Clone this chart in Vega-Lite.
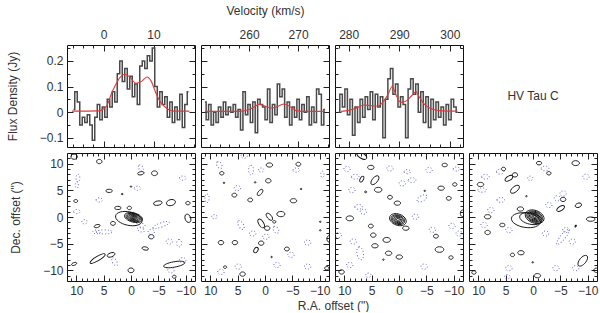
{
"$schema":"https://vega.github.io/schema/vega-lite/v6.json",
"padding":{"left":5,"top":3,"right":0,"bottom":0},
"background":"white",
"config":{
 "view":{"stroke":"#111","strokeWidth":1},
 "axis":{"domain":false,"grid":false,"tickColor":"#222","tickWidth":1,"labelFont":"Liberation Sans","labelFontSize":12,"labelColor":"#333","titleFont":"Liberation Sans","titleFontSize":12,"titleFontWeight":"normal","titleColor":"#333","labelOverlap":false,"labelFlush":false,"labelBound":false}
},
"datasets":{
"spec":[
{"p":1,"v":-6.0,"f":0.01},{"p":1,"v":-5.5,"f":0.08},{"p":1,"v":-5.0,"f":0.04},{"p":1,"v":-4.5,"f":-0.05},{"p":1,"v":-4.0,"f":-0.02},{"p":1,"v":-3.5,"f":-0.04},{"p":1,"v":-3.0,"f":-0.01},{"p":1,"v":-2.5,"f":-0.05},{"p":1,"v":-2.0,"f":-0.11},{"p":1,"v":-1.5,"f":-0.02},{"p":1,"v":-1.0,"f":0.03},{"p":1,"v":-0.5,"f":-0.03},{"p":1,"v":0.0,"f":0.02},{"p":1,"v":0.5,"f":-0.02},{"p":1,"v":1.0,"f":0.05},{"p":1,"v":1.5,"f":0.02},{"p":1,"v":2.0,"f":0.08},{"p":1,"v":2.5,"f":0.04},{"p":1,"v":3.0,"f":0.15},{"p":1,"v":3.5,"f":0.20},{"p":1,"v":4.0,"f":0.12},{"p":1,"v":4.5,"f":0.17},{"p":1,"v":5.0,"f":0.09},{"p":1,"v":5.5,"f":0.14},{"p":1,"v":6.0,"f":0.06},{"p":1,"v":6.5,"f":0.11},{"p":1,"v":7.0,"f":0.03},{"p":1,"v":7.5,"f":0.18},{"p":1,"v":8.0,"f":0.20},{"p":1,"v":8.5,"f":0.17},{"p":1,"v":9.0,"f":0.22},{"p":1,"v":9.5,"f":0.20},{"p":1,"v":10.0,"f":0.25},{"p":1,"v":10.5,"f":0.10},{"p":1,"v":11.0,"f":0.02},{"p":1,"v":11.5,"f":0.08},{"p":1,"v":12.0,"f":0.03},{"p":1,"v":12.5,"f":0.06},{"p":1,"v":13.0,"f":-0.02},{"p":1,"v":13.5,"f":0.04},{"p":1,"v":14.0,"f":-0.04},{"p":1,"v":14.5,"f":0.02},{"p":1,"v":15.0,"f":-0.03},{"p":1,"v":15.5,"f":0.07},{"p":1,"v":16.0,"f":-0.06},{"p":1,"v":16.5,"f":0.03},{"p":1,"v":17.0,"f":0.08},
{"p":2,"v":251.0,"f":0.04},{"p":2,"v":251.5,"f":-0.03},{"p":2,"v":252.0,"f":0.03},{"p":2,"v":252.5,"f":-0.05},{"p":2,"v":253.0,"f":0.0},{"p":2,"v":253.5,"f":-0.04},{"p":2,"v":254.0,"f":0.02},{"p":2,"v":254.5,"f":-0.02},{"p":2,"v":255.0,"f":0.04},{"p":2,"v":255.5,"f":-0.01},{"p":2,"v":256.0,"f":0.02},{"p":2,"v":256.5,"f":0.0},{"p":2,"v":257.0,"f":0.03},{"p":2,"v":257.5,"f":-0.02},{"p":2,"v":258.0,"f":0.01},{"p":2,"v":258.5,"f":-0.07},{"p":2,"v":259.0,"f":0.08},{"p":2,"v":259.5,"f":-0.01},{"p":2,"v":260.0,"f":0.03},{"p":2,"v":260.5,"f":-0.04},{"p":2,"v":261.0,"f":0.04},{"p":2,"v":261.5,"f":-0.08},{"p":2,"v":262.0,"f":0.05},{"p":2,"v":262.5,"f":0.03},{"p":2,"v":263.0,"f":0.02},{"p":2,"v":263.5,"f":-0.03},{"p":2,"v":264.0,"f":0.09},{"p":2,"v":264.5,"f":-0.04},{"p":2,"v":265.0,"f":0.03},{"p":2,"v":265.5,"f":-0.01},{"p":2,"v":266.0,"f":0.11},{"p":2,"v":266.5,"f":0.06},{"p":2,"v":267.0,"f":0.09},{"p":2,"v":267.5,"f":-0.02},{"p":2,"v":268.0,"f":0.04},{"p":2,"v":268.5,"f":-0.05},{"p":2,"v":269.0,"f":0.02},{"p":2,"v":269.5,"f":-0.02},{"p":2,"v":270.0,"f":0.05},{"p":2,"v":270.5,"f":-0.03},{"p":2,"v":271.0,"f":0.03},{"p":2,"v":271.5,"f":0.0},{"p":2,"v":272.0,"f":0.06},{"p":2,"v":272.5,"f":-0.05},{"p":2,"v":273.0,"f":0.02},{"p":2,"v":273.5,"f":-0.04},{"p":2,"v":274.0,"f":0.09},{"p":2,"v":274.5,"f":0.07},{"p":2,"v":275.0,"f":-0.05},{"p":2,"v":275.5,"f":0.01},
{"p":3,"v":278.0,"f":0.0},{"p":3,"v":278.5,"f":0.07},{"p":3,"v":279.0,"f":0.02},{"p":3,"v":279.5,"f":0.09},{"p":3,"v":280.0,"f":-0.01},{"p":3,"v":280.5,"f":0.05},{"p":3,"v":281.0,"f":-0.09},{"p":3,"v":281.5,"f":0.02},{"p":3,"v":282.0,"f":-0.04},{"p":3,"v":282.5,"f":0.05},{"p":3,"v":283.0,"f":-0.02},{"p":3,"v":283.5,"f":0.06},{"p":3,"v":284.0,"f":0.01},{"p":3,"v":284.5,"f":0.08},{"p":3,"v":285.0,"f":-0.03},{"p":3,"v":285.5,"f":0.07},{"p":3,"v":286.0,"f":0.02},{"p":3,"v":286.5,"f":0.06},{"p":3,"v":287.0,"f":-0.10},{"p":3,"v":287.5,"f":0.05},{"p":3,"v":288.0,"f":0.13},{"p":3,"v":288.5,"f":0.17},{"p":3,"v":289.0,"f":0.07},{"p":3,"v":289.5,"f":0.11},{"p":3,"v":290.0,"f":0.02},{"p":3,"v":290.5,"f":0.06},{"p":3,"v":291.0,"f":0.03},{"p":3,"v":291.5,"f":-0.10},{"p":3,"v":292.0,"f":0.09},{"p":3,"v":292.5,"f":0.13},{"p":3,"v":293.0,"f":0.07},{"p":3,"v":293.5,"f":0.11},{"p":3,"v":294.0,"f":0.0},{"p":3,"v":294.5,"f":0.08},{"p":3,"v":295.0,"f":-0.04},{"p":3,"v":295.5,"f":0.06},{"p":3,"v":296.0,"f":-0.06},{"p":3,"v":296.5,"f":0.05},{"p":3,"v":297.0,"f":-0.03},{"p":3,"v":297.5,"f":0.04},{"p":3,"v":298.0,"f":-0.02},{"p":3,"v":298.5,"f":0.02},{"p":3,"v":299.0,"f":-0.05},{"p":3,"v":299.5,"f":0.03},{"p":3,"v":300.0,"f":-0.03},{"p":3,"v":300.5,"f":0.05},{"p":3,"v":301.0,"f":0.02},{"p":3,"v":301.5,"f":0.0}
],
"model":[
{"p":1,"v":-6.3,"f":0.004},{"p":1,"v":-1,"f":0.005},{"p":1,"v":0,"f":0.012},{"p":1,"v":0.8,"f":0.03},{"p":1,"v":1.5,"f":0.068},{"p":1,"v":2.5,"f":0.11},{"p":1,"v":3.4,"f":0.138},{"p":1,"v":4.2,"f":0.148},{"p":1,"v":5.2,"f":0.138},{"p":1,"v":6.5,"f":0.113},{"p":1,"v":7.6,"f":0.12},{"p":1,"v":8.7,"f":0.137},{"p":1,"v":9.5,"f":0.122},{"p":1,"v":10.5,"f":0.074},{"p":1,"v":11.3,"f":0.042},{"p":1,"v":12.2,"f":0.022},{"p":1,"v":13.2,"f":0.008},{"p":1,"v":14,"f":0.004},{"p":1,"v":17.2,"f":0.004},
{"p":2,"v":251,"f":0.003},{"p":2,"v":258,"f":0.003},{"p":2,"v":260,"f":0.01},{"p":2,"v":261.2,"f":0.022},{"p":2,"v":262.1,"f":0.031},{"p":2,"v":263.2,"f":0.024},{"p":2,"v":264.5,"f":0.016},{"p":2,"v":265.8,"f":0.022},{"p":2,"v":267.2,"f":0.032},{"p":2,"v":268.3,"f":0.022},{"p":2,"v":269.5,"f":0.007},{"p":2,"v":271,"f":0.003},{"p":2,"v":275.5,"f":0.003},
{"p":3,"v":278.5,"f":0.003},{"p":3,"v":280,"f":0.007},{"p":3,"v":281.5,"f":0.015},{"p":3,"v":283,"f":0.028},{"p":3,"v":284.5,"f":0.025},{"p":3,"v":285.8,"f":0.024},{"p":3,"v":287,"f":0.045},{"p":3,"v":287.8,"f":0.07},{"p":3,"v":288.6,"f":0.1},{"p":3,"v":289.4,"f":0.065},{"p":3,"v":290.3,"f":0.038},{"p":3,"v":291.5,"f":0.045},{"p":3,"v":292.5,"f":0.065},{"p":3,"v":293.3,"f":0.08},{"p":3,"v":294,"f":0.058},{"p":3,"v":295,"f":0.03},{"p":3,"v":296,"f":0.016},{"p":3,"v":297,"f":0.009},{"p":3,"v":298.5,"f":0.005},{"p":3,"v":301.5,"f":0.004}
],
"blobs":[
{"p":1,"s":"p","ra":10.4,"dec":11.3,"r":0.6,"f":"o","pa":0},{"p":1,"s":"p","ra":5.8,"dec":10.4,"r":0.5,"f":"o","pa":0},{"p":1,"s":"p","ra":-1.8,"dec":8.2,"r":0.6,"f":"e","pa":-10},{"p":1,"s":"p","ra":-4.3,"dec":8.2,"r":0.55,"f":"o","pa":0},{"p":1,"s":"p","ra":4.0,"dec":4.9,"r":0.6,"f":"e","pa":0},{"p":1,"s":"p","ra":0,"dec":5.7,"r":0.15,"f":"o","pa":0},{"p":1,"s":"p","ra":1.6,"dec":4.3,"r":0.2,"f":"e","pa":0},{"p":1,"s":"p","ra":-4.9,"dec":2.6,"r":0.8,"f":"e","pa":-10},{"p":1,"s":"p","ra":-7.3,"dec":2.7,"r":0.85,"f":"m","pa":-15},{"p":1,"s":"p","ra":-10.4,"dec":2.6,"r":0.4,"f":"o","pa":0},{"p":1,"s":"p","ra":10.1,"dec":3.0,"r":0.35,"f":"o","pa":0},{"p":1,"s":"p","ra":2.4,"dec":1.7,"r":0.6,"f":"e","pa":0},{"p":1,"s":"p","ra":6.2,"dec":-1.7,"r":0.55,"f":"e","pa":-15},{"p":1,"s":"p","ra":3.3,"dec":-1.2,"r":0.45,"f":"o","pa":0},{"p":1,"s":"p","ra":-10.4,"dec":-0.25,"r":0.8,"f":"m","pa":70},{"p":1,"s":"p","ra":-3.7,"dec":-3.7,"r":0.5,"f":"o","pa":0},{"p":1,"s":"p","ra":-2.6,"dec":-5.9,"r":0.6,"f":"e","pa":10},{"p":1,"s":"p","ra":6.1,"dec":-7.8,"r":1.6,"f":"l","pa":-30},{"p":1,"s":"p","ra":3.65,"dec":-7.1,"r":0.75,"f":"e","pa":-20},{"p":1,"s":"p","ra":10.4,"dec":-8.8,"r":0.5,"f":"e","pa":-20},{"p":1,"s":"p","ra":0,"dec":-10,"r":0.55,"f":"o","pa":0},{"p":1,"s":"p","ra":-7.9,"dec":-8.9,"r":2.0,"f":"l","pa":-10},{"p":1,"s":"p","ra":-7.9,"dec":-11.2,"r":0.35,"f":"o","pa":0},{"p":1,"s":"p","ra":0.3,"dec":1.7,"r":0.4,"f":"o","pa":0},
{"p":1,"s":"p","ra":0.4,"dec":-0.3,"r":2.5,"f":"e","pa":12},{"p":1,"s":"p","ra":-0.45,"dec":-0.1,"r":1.7,"f":"e","pa":15},{"p":1,"s":"p","ra":-0.45,"dec":-0.1,"r":1.4,"f":"e","pa":15},{"p":1,"s":"p","ra":-0.45,"dec":-0.1,"r":1.15,"f":"e","pa":15},{"p":1,"s":"p","ra":-0.45,"dec":-0.1,"r":0.9,"f":"e","pa":15},{"p":1,"s":"p","ra":-0.45,"dec":-0.1,"r":0.65,"f":"e","pa":15},{"p":1,"s":"p","ra":-0.45,"dec":-0.1,"r":0.42,"f":"e","pa":15},{"p":1,"s":"p","ra":-0.45,"dec":-0.1,"r":0.2,"f":"e","pa":15},
{"p":1,"s":"n","ra":-1.8,"dec":9.2,"r":0.6,"f":"m","pa":60},{"p":1,"s":"n","ra":9.7,"dec":7.3,"r":0.7,"f":"e","pa":90},{"p":1,"s":"n","ra":-9.45,"dec":7.3,"r":0.6,"f":"m","pa":0},{"p":1,"s":"n","ra":-1.2,"dec":5.4,"r":0.6,"f":"m","pa":0},{"p":1,"s":"n","ra":5.8,"dec":3.2,"r":0.6,"f":"m","pa":0},{"p":1,"s":"n","ra":9.9,"dec":1.0,"r":0.6,"f":"m","pa":0},{"p":1,"s":"n","ra":8.5,"dec":-0.9,"r":0.5,"f":"o","pa":0},{"p":1,"s":"n","ra":4.9,"dec":-2.8,"r":1.5,"f":"l","pa":0},{"p":1,"s":"n","ra":-1.8,"dec":-2.4,"r":0.7,"f":"e","pa":20},{"p":1,"s":"n","ra":-5.5,"dec":-1.5,"r":1.6,"f":"l","pa":-20},{"p":1,"s":"n","ra":-3.7,"dec":-2.8,"r":0.6,"f":"o","pa":0},{"p":1,"s":"n","ra":-7.0,"dec":-4.6,"r":0.6,"f":"o","pa":0},{"p":1,"s":"n","ra":-8.8,"dec":-4.9,"r":0.7,"f":"m","pa":90},{"p":1,"s":"n","ra":-9.45,"dec":-8.1,"r":0.6,"f":"o","pa":0},{"p":1,"s":"n","ra":3.0,"dec":-8.4,"r":0.8,"f":"e","pa":60},{"p":1,"s":"n","ra":-7.3,"dec":-10,"r":0.6,"f":"o","pa":0},{"p":1,"s":"n","ra":-1.8,"dec":-1.5,"r":0.8,"f":"e","pa":15},{"p":1,"s":"n","ra":9.9,"dec":6.0,"r":0.6,"f":"e","pa":90},{"p":1,"s":"n","ra":6.3,"dec":-2.8,"r":0.7,"f":"e","pa":0},
{"p":2,"s":"p","ra":-0.8,"dec":9.75,"r":0.6,"f":"m","pa":0},{"p":2,"s":"p","ra":-6.1,"dec":9.9,"r":0.45,"f":"o","pa":0},{"p":2,"s":"p","ra":7.9,"dec":8.2,"r":0.4,"f":"o","pa":0},{"p":2,"s":"p","ra":-0.6,"dec":6.8,"r":0.5,"f":"o","pa":0},{"p":2,"s":"p","ra":1.8,"dec":6.5,"r":0.15,"f":"o","pa":0},{"p":2,"s":"p","ra":5.6,"dec":4.1,"r":0.45,"f":"o","pa":0},{"p":2,"s":"p","ra":2.7,"dec":3.2,"r":0.45,"f":"o","pa":0},{"p":2,"s":"p","ra":0.9,"dec":4.6,"r":0.7,"f":"e","pa":-50},{"p":2,"s":"p","ra":-5.2,"dec":3.05,"r":0.6,"f":"m","pa":0},{"p":2,"s":"p","ra":-0.8,"dec":0.05,"r":0.8,"f":"e","pa":50},{"p":2,"s":"p","ra":-2.9,"dec":0.55,"r":0.75,"f":"m","pa":0},{"p":2,"s":"p","ra":0.7,"dec":-1.2,"r":0.9,"f":"e","pa":60},{"p":2,"s":"p","ra":-0.4,"dec":-2.1,"r":0.5,"f":"o","pa":0},{"p":2,"s":"p","ra":-1.7,"dec":-0.9,"r":0.3,"f":"o","pa":0},{"p":2,"s":"p","ra":8.05,"dec":-4.8,"r":0.5,"f":"o","pa":0},{"p":2,"s":"p","ra":5.5,"dec":-4.8,"r":0.5,"f":"o","pa":0},{"p":2,"s":"p","ra":0.7,"dec":-4.9,"r":0.5,"f":"o","pa":0},{"p":2,"s":"p","ra":1.65,"dec":-6.2,"r":0.55,"f":"m","pa":-60},{"p":2,"s":"p","ra":-4.0,"dec":-6.0,"r":0.45,"f":"o","pa":0},{"p":2,"s":"p","ra":-1.2,"dec":-7.5,"r":0.15,"f":"o","pa":0},{"p":2,"s":"p","ra":4.1,"dec":-10.7,"r":0.5,"f":"o","pa":0},{"p":2,"s":"p","ra":-11.3,"dec":-9.6,"r":0.4,"f":"o","pa":0},{"p":2,"s":"p","ra":-11.7,"dec":-4.1,"r":0.6,"f":"m","pa":90},{"p":2,"s":"p","ra":-10.1,"dec":-0.9,"r":0.15,"f":"o","pa":0},{"p":2,"s":"p","ra":-10.1,"dec":-2.5,"r":0.15,"f":"o","pa":0},{"p":2,"s":"p","ra":-6.6,"dec":5.25,"r":0.15,"f":"o","pa":0},{"p":2,"s":"p","ra":7.5,"dec":6.4,"r":0.15,"f":"o","pa":0},{"p":2,"s":"p","ra":7.3,"dec":-9.4,"r":0.3,"f":"o","pa":0},
{"p":2,"s":"n","ra":8.35,"dec":9.75,"r":0.7,"f":"m","pa":60},{"p":2,"s":"n","ra":2.55,"dec":8.8,"r":0.9,"f":"e","pa":90},{"p":2,"s":"n","ra":-5.7,"dec":8.8,"r":0.6,"f":"m","pa":0},{"p":2,"s":"n","ra":10.6,"dec":3.5,"r":0.8,"f":"e","pa":90},{"p":2,"s":"n","ra":5.05,"dec":5.4,"r":0.6,"f":"o","pa":0},{"p":2,"s":"n","ra":0.7,"dec":8.8,"r":0.5,"f":"o","pa":0},{"p":2,"s":"n","ra":4.4,"dec":-1.5,"r":0.9,"f":"e","pa":60},{"p":2,"s":"n","ra":-2.0,"dec":-2.4,"r":0.7,"f":"m","pa":60},{"p":2,"s":"n","ra":2.25,"dec":-3.1,"r":0.6,"f":"o","pa":0},{"p":2,"s":"n","ra":-0.15,"dec":-3.7,"r":0.6,"f":"o","pa":0},{"p":2,"s":"n","ra":-4.75,"dec":-7.1,"r":0.6,"f":"o","pa":0},{"p":2,"s":"n","ra":-7.8,"dec":-4.8,"r":0.6,"f":"o","pa":0},{"p":2,"s":"n","ra":-2.2,"dec":-9.0,"r":0.6,"f":"o","pa":0},{"p":2,"s":"n","ra":-7.8,"dec":-9.3,"r":0.6,"f":"o","pa":0},{"p":2,"s":"n","ra":4.9,"dec":-9.3,"r":0.6,"f":"o","pa":0},{"p":2,"s":"n","ra":8.05,"dec":-10.3,"r":0.6,"f":"o","pa":0},{"p":2,"s":"n","ra":3.8,"dec":11.5,"r":0.6,"f":"o","pa":0},{"p":2,"s":"n","ra":9.25,"dec":0.05,"r":0.5,"f":"o","pa":0},{"p":2,"s":"n","ra":-10.5,"dec":8.0,"r":0.6,"f":"e","pa":90},
{"p":3,"s":"p","ra":6.8,"dec":11.5,"r":1.0,"f":"e","pa":30},{"p":3,"s":"p","ra":5.15,"dec":9.3,"r":0.6,"f":"m","pa":0},{"p":3,"s":"p","ra":6.8,"dec":7.1,"r":0.6,"f":"e","pa":-60},{"p":3,"s":"p","ra":4.4,"dec":6.9,"r":1.0,"f":"e","pa":-50},{"p":3,"s":"p","ra":3.8,"dec":5.1,"r":0.7,"f":"m","pa":0},{"p":3,"s":"p","ra":1.65,"dec":3.7,"r":0.45,"f":"o","pa":0},{"p":3,"s":"p","ra":0.3,"dec":2.6,"r":0.6,"f":"m","pa":0},{"p":3,"s":"p","ra":9.0,"dec":-0.25,"r":0.7,"f":"m","pa":0},{"p":3,"s":"p","ra":5.15,"dec":-1.7,"r":0.45,"f":"o","pa":0},{"p":3,"s":"p","ra":4.7,"dec":-3.4,"r":0.5,"f":"o","pa":0},{"p":3,"s":"p","ra":2.25,"dec":-4.3,"r":0.7,"f":"m","pa":0},{"p":3,"s":"p","ra":4.4,"dec":-5.4,"r":0.6,"f":"m","pa":0},{"p":3,"s":"p","ra":1.9,"dec":-6.8,"r":0.6,"f":"m","pa":0},{"p":3,"s":"p","ra":-0.05,"dec":-7.5,"r":0.6,"f":"m","pa":0},{"p":3,"s":"p","ra":2.85,"dec":-8,"r":0.15,"f":"o","pa":0},{"p":3,"s":"p","ra":10.5,"dec":-10.3,"r":0.5,"f":"o","pa":0},{"p":3,"s":"p","ra":6.1,"dec":4.7,"r":0.2,"f":"o","pa":0},{"p":3,"s":"p","ra":-8.35,"dec":9.75,"r":0.5,"f":"m","pa":0},{"p":3,"s":"p","ra":-10.2,"dec":6.1,"r":0.4,"f":"o","pa":0},{"p":3,"s":"p","ra":-7.7,"dec":5.4,"r":0.6,"f":"m","pa":0},{"p":3,"s":"p","ra":-4.7,"dec":4.9,"r":0.15,"f":"o","pa":0},{"p":3,"s":"p","ra":-9.1,"dec":3.5,"r":0.45,"f":"o","pa":0},{"p":3,"s":"p","ra":-1.25,"dec":-2.1,"r":0.6,"f":"m","pa":0},{"p":3,"s":"p","ra":-6.75,"dec":-3.6,"r":0.45,"f":"o","pa":0},{"p":3,"s":"p","ra":-7.4,"dec":-6.1,"r":0.8,"f":"m","pa":0},{"p":3,"s":"p","ra":-9.5,"dec":-7.6,"r":0.4,"f":"o","pa":0},{"p":3,"s":"p","ra":-11.6,"dec":0.7,"r":0.6,"f":"m","pa":90},
{"p":3,"s":"p","ra":0.2,"dec":-0.5,"r":1.6,"f":"m","pa":20},{"p":3,"s":"p","ra":0.2,"dec":-0.5,"r":1.3,"f":"m","pa":20},{"p":3,"s":"p","ra":0.2,"dec":-0.5,"r":1.05,"f":"m","pa":20},{"p":3,"s":"p","ra":0.2,"dec":-0.5,"r":0.8,"f":"m","pa":20},{"p":3,"s":"p","ra":0.2,"dec":-0.5,"r":0.55,"f":"m","pa":20},{"p":3,"s":"p","ra":0.2,"dec":-0.5,"r":0.3,"f":"m","pa":20},
{"p":3,"s":"n","ra":1.65,"dec":9.1,"r":0.6,"f":"o","pa":0},{"p":3,"s":"n","ra":8.0,"dec":7.55,"r":0.7,"f":"m","pa":0},{"p":3,"s":"n","ra":8.6,"dec":5.05,"r":0.6,"f":"o","pa":0},{"p":3,"s":"n","ra":7.4,"dec":1.9,"r":0.7,"f":"m","pa":0},{"p":3,"s":"n","ra":6.5,"dec":1.0,"r":0.6,"f":"o","pa":0},{"p":3,"s":"n","ra":11.1,"dec":-3.4,"r":0.6,"f":"o","pa":0},{"p":3,"s":"n","ra":8.35,"dec":-4.6,"r":0.6,"f":"o","pa":0},{"p":3,"s":"n","ra":7.1,"dec":-6.8,"r":1.2,"f":"e","pa":80},{"p":3,"s":"n","ra":9.0,"dec":-9.0,"r":0.6,"f":"o","pa":0},{"p":3,"s":"n","ra":5.6,"dec":-10.9,"r":0.5,"f":"o","pa":0},{"p":3,"s":"n","ra":-0.6,"dec":6.3,"r":0.6,"f":"o","pa":0},{"p":3,"s":"n","ra":-1.5,"dec":8.5,"r":0.6,"f":"m","pa":0},{"p":3,"s":"n","ra":-2.4,"dec":6.9,"r":0.7,"f":"m","pa":0},{"p":3,"s":"n","ra":-4.2,"dec":3.5,"r":1.0,"f":"e","pa":-30},{"p":3,"s":"n","ra":-3.0,"dec":0.05,"r":0.6,"f":"o","pa":0},{"p":3,"s":"n","ra":-6.1,"dec":-2.4,"r":0.6,"f":"o","pa":0},{"p":3,"s":"n","ra":-9.7,"dec":-1.7,"r":0.6,"f":"o","pa":0},{"p":3,"s":"n","ra":-11.0,"dec":-3.1,"r":0.6,"f":"o","pa":0},{"p":3,"s":"n","ra":-4.6,"dec":-9.3,"r":0.6,"f":"o","pa":0},{"p":3,"s":"n","ra":-5.5,"dec":8.8,"r":0.6,"f":"o","pa":0},{"p":3,"s":"n","ra":9.5,"dec":9.0,"r":0.6,"f":"o","pa":0},{"p":3,"s":"n","ra":-10.5,"dec":9.0,"r":0.6,"f":"m","pa":0},
{"p":4,"s":"p","ra":-1.1,"dec":10.1,"r":0.5,"f":"m","pa":0},{"p":4,"s":"p","ra":-7.8,"dec":10.1,"r":0.7,"f":"m","pa":0},{"p":4,"s":"p","ra":-2.9,"dec":8.2,"r":0.4,"f":"o","pa":0},{"p":4,"s":"p","ra":5.4,"dec":9.0,"r":0.4,"f":"o","pa":0},{"p":4,"s":"p","ra":4.4,"dec":7.25,"r":0.8,"f":"e","pa":-30},{"p":4,"s":"p","ra":3.3,"dec":7.9,"r":0.5,"f":"o","pa":0},{"p":4,"s":"p","ra":9.6,"dec":6.1,"r":0.6,"f":"m","pa":0},{"p":4,"s":"p","ra":3.3,"dec":5.2,"r":1.0,"f":"e","pa":-40},{"p":4,"s":"p","ra":1.2,"dec":3.9,"r":0.15,"f":"o","pa":0},{"p":4,"s":"p","ra":-5.5,"dec":3.3,"r":0.5,"f":"o","pa":0},{"p":4,"s":"p","ra":-8.3,"dec":2.2,"r":0.6,"f":"m","pa":-20},{"p":4,"s":"p","ra":-5.05,"dec":1.6,"r":0.8,"f":"e","pa":-30},{"p":4,"s":"p","ra":2.3,"dec":1.5,"r":0.6,"f":"m","pa":0},{"p":4,"s":"p","ra":8.3,"dec":0.05,"r":0.6,"f":"m","pa":0},{"p":4,"s":"p","ra":-10.55,"dec":-0.4,"r":0.8,"f":"e","pa":0},{"p":4,"s":"p","ra":5.6,"dec":-1.5,"r":0.5,"f":"m","pa":0},{"p":4,"s":"p","ra":-7.8,"dec":-1.7,"r":0.2,"f":"e","pa":-60},{"p":4,"s":"p","ra":8.3,"dec":-2.9,"r":0.5,"f":"o","pa":0},{"p":4,"s":"p","ra":3.75,"dec":-7.1,"r":0.4,"f":"o","pa":0},{"p":4,"s":"p","ra":2.2,"dec":-6.7,"r":0.6,"f":"m","pa":0},{"p":4,"s":"p","ra":0.05,"dec":-8.5,"r":0.15,"f":"o","pa":0},{"p":4,"s":"p","ra":-9.1,"dec":-8.2,"r":1.2,"f":"e","pa":-50},{"p":4,"s":"p","ra":-11.6,"dec":-10,"r":0.5,"f":"o","pa":0},{"p":4,"s":"p","ra":-0.8,"dec":-11.0,"r":0.6,"f":"m","pa":0},{"p":4,"s":"p","ra":10.8,"dec":-10.4,"r":0.4,"f":"o","pa":0},
{"p":4,"s":"p","ra":1.3,"dec":-0.6,"r":2.7,"f":"e","pa":8},{"p":4,"s":"p","ra":0.4,"dec":-0.3,"r":2.1,"f":"e","pa":12},{"p":4,"s":"p","ra":-0.3,"dec":0.05,"r":1.8,"f":"m","pa":20},{"p":4,"s":"p","ra":-0.3,"dec":0.05,"r":1.5,"f":"m","pa":20},{"p":4,"s":"p","ra":-0.3,"dec":0.05,"r":1.25,"f":"m","pa":20},{"p":4,"s":"p","ra":-0.3,"dec":0.05,"r":1.0,"f":"m","pa":20},{"p":4,"s":"p","ra":-0.3,"dec":0.05,"r":0.75,"f":"m","pa":20},{"p":4,"s":"p","ra":-0.3,"dec":0.05,"r":0.5,"f":"m","pa":20},{"p":4,"s":"p","ra":-0.3,"dec":0.05,"r":0.28,"f":"m","pa":20},
{"p":4,"s":"n","ra":8.7,"dec":7.55,"r":0.7,"f":"m","pa":0},{"p":4,"s":"n","ra":-2.2,"dec":9.1,"r":0.7,"f":"m","pa":0},{"p":4,"s":"n","ra":-9.7,"dec":7.55,"r":0.6,"f":"o","pa":0},{"p":4,"s":"n","ra":9.3,"dec":5.05,"r":0.8,"f":"e","pa":0},{"p":4,"s":"n","ra":5.9,"dec":3.2,"r":0.7,"f":"m","pa":0},{"p":4,"s":"n","ra":-2.9,"dec":2.25,"r":0.6,"f":"o","pa":0},{"p":4,"s":"n","ra":-4.45,"dec":3.5,"r":0.6,"f":"o","pa":0},{"p":4,"s":"n","ra":7.7,"dec":1.3,"r":0.6,"f":"o","pa":0},{"p":4,"s":"n","ra":8.95,"dec":-1.5,"r":0.6,"f":"o","pa":0},{"p":4,"s":"n","ra":4.4,"dec":-2.45,"r":0.6,"f":"o","pa":0},{"p":4,"s":"n","ra":-2.3,"dec":-3.1,"r":0.6,"f":"o","pa":0},{"p":4,"s":"n","ra":-5.5,"dec":-3.7,"r":1.8,"f":"l","pa":-50},{"p":4,"s":"n","ra":-6.0,"dec":-2.45,"r":0.6,"f":"o","pa":0},{"p":4,"s":"n","ra":-7.2,"dec":-4.6,"r":0.6,"f":"o","pa":0},{"p":4,"s":"n","ra":-4.2,"dec":-9.6,"r":0.6,"f":"o","pa":0},{"p":4,"s":"n","ra":4.4,"dec":-9.6,"r":0.6,"f":"o","pa":0},{"p":4,"s":"n","ra":4.7,"dec":-11.2,"r":0.5,"f":"o","pa":0},{"p":4,"s":"n","ra":-7.8,"dec":-9.6,"r":0.6,"f":"o","pa":0},{"p":4,"s":"n","ra":0.5,"dec":7.25,"r":0.5,"f":"o","pa":0},{"p":4,"s":"n","ra":-5.5,"dec":4.4,"r":0.6,"f":"o","pa":0},{"p":4,"s":"n","ra":6.0,"dec":8.5,"r":0.7,"f":"m","pa":0}
]
},
"columns":4,
"spacing":{"row":6,"column":6},
"bounds":"flush",
"resolve":{"scale":{"x":"independent","y":"independent"}},
"concat":[
{"width":128,"height":102,
 "layer":[
  {"data":{"name":"spec"},"transform":[{"filter":"datum.p==1"}],"mark":{"type":"line","interpolate":"step","color":"#4a4a4a","strokeWidth":1.5,"clip":true},
   "encoding":{"x":{"field":"v","type":"quantitative","scale":{"domain":[-7.3,18.3],"nice":false,"zero":false},"axis":{"orient":"bottom","values":[-6,-4,-2,0,2,4,6,8,10,12,14,16,18],"labels":false,"title":null,"tickSize":{"condition":{"test":"datum.value % 10 === 0","value":-6},"value":-3}}},
    "y":{"field":"f","type":"quantitative","scale":{"domain":[-0.136,0.262],"nice":false,"zero":false},"axis":{"orient":"left","values":[-0.1,-0.05,0,0.05,0.1,0.15,0.2,0.25],"format":"~g","labelExpr":"abs(datum.value*10-round(datum.value*10))<0.001 ? datum.label : ''","tickSize":{"condition":{"test":"abs(datum.value*10-round(datum.value*10))<0.001","value":-6},"value":-3},"labelPadding":10,"title":"Flux Density (Jy)","titlePadding":20}}}},
  {"data":{"name":"model"},"transform":[{"filter":"datum.p==1"}],"mark":{"type":"line","interpolate":"monotone","color":"#e03a3a","strokeWidth":1.1,"clip":true},
   "encoding":{"x":{"field":"v","type":"quantitative","axis":{"orient":"top","values":[-6,-4,-2,0,2,4,6,8,10,12,14,16,18],"format":"d","labelExpr":"datum.value % 10 === 0 ? datum.label : ''","labelPadding":10,"title":null,"tickSize":{"condition":{"test":"datum.value % 10 === 0","value":-6},"value":-3}}},
    "y":{"field":"f","type":"quantitative","axis":{"orient":"right","values":[-0.1,-0.05,0,0.05,0.1,0.15,0.2,0.25],"labels":false,"title":null,"tickSize":{"condition":{"test":"abs(datum.value*10-round(datum.value*10))<0.001","value":-6},"value":-3}}}}}
 ],
 "resolve":{"axis":{"x":"independent","y":"independent"}}
},
{"width":128,"height":102,
 "layer":[
  {"data":{"name":"spec"},"transform":[{"filter":"datum.p==2"}],"mark":{"type":"line","interpolate":"step","color":"#4a4a4a","strokeWidth":1.5,"clip":true},
   "encoding":{"x":{"field":"v","type":"quantitative","scale":{"domain":[250.2,276.3],"nice":false,"zero":false},"axis":{"orient":"bottom","values":[252,254,256,258,260,262,264,266,268,270,272,274,276],"labels":false,"title":null,"tickSize":{"condition":{"test":"datum.value % 10 === 0","value":-6},"value":-3}}},
    "y":{"field":"f","type":"quantitative","scale":{"domain":[-0.136,0.262],"nice":false,"zero":false},"axis":{"orient":"left","values":[-0.1,-0.05,0,0.05,0.1,0.15,0.2,0.25],"labels":false,"title":null,"tickSize":{"condition":{"test":"abs(datum.value*10-round(datum.value*10))<0.001","value":-6},"value":-3}}}}},
  {"data":{"name":"model"},"transform":[{"filter":"datum.p==2"}],"mark":{"type":"line","interpolate":"monotone","color":"#e03a3a","strokeWidth":1.1,"clip":true},
   "encoding":{"x":{"field":"v","type":"quantitative","axis":{"orient":"top","values":[252,254,256,258,260,262,264,266,268,270,272,274,276],"format":"d","labelExpr":"datum.value % 10 === 0 ? datum.label : ''","labelPadding":10,"title":"Velocity (km/s)","titlePadding":8,"tickSize":{"condition":{"test":"datum.value % 10 === 0","value":-6},"value":-3}}},
    "y":{"field":"f","type":"quantitative","axis":{"orient":"right","values":[-0.1,-0.05,0,0.05,0.1,0.15,0.2,0.25],"labels":false,"title":null,"tickSize":{"condition":{"test":"abs(datum.value*10-round(datum.value*10))<0.001","value":-6},"value":-3}}}}}
 ],
 "resolve":{"axis":{"x":"independent","y":"independent"}}
},
{"width":128,"height":102,
 "layer":[
  {"data":{"name":"spec"},"transform":[{"filter":"datum.p==3"}],"mark":{"type":"line","interpolate":"step","color":"#4a4a4a","strokeWidth":1.5,"clip":true},
   "encoding":{"x":{"field":"v","type":"quantitative","scale":{"domain":[277.3,302.6],"nice":false,"zero":false},"axis":{"orient":"bottom","values":[278,280,282,284,286,288,290,292,294,296,298,300,302],"labels":false,"title":null,"tickSize":{"condition":{"test":"datum.value % 10 === 0","value":-6},"value":-3}}},
    "y":{"field":"f","type":"quantitative","scale":{"domain":[-0.136,0.262],"nice":false,"zero":false},"axis":{"orient":"left","values":[-0.1,-0.05,0,0.05,0.1,0.15,0.2,0.25],"labels":false,"title":null,"tickSize":{"condition":{"test":"abs(datum.value*10-round(datum.value*10))<0.001","value":-6},"value":-3}}}}},
  {"data":{"name":"model"},"transform":[{"filter":"datum.p==3"}],"mark":{"type":"line","interpolate":"monotone","color":"#e03a3a","strokeWidth":1.1,"clip":true},
   "encoding":{"x":{"field":"v","type":"quantitative","axis":{"orient":"top","values":[278,280,282,284,286,288,290,292,294,296,298,300,302],"format":"d","labelExpr":"datum.value % 10 === 0 ? datum.label : ''","labelPadding":10,"title":null,"tickSize":{"condition":{"test":"datum.value % 10 === 0","value":-6},"value":-3}}},
    "y":{"field":"f","type":"quantitative","axis":{"orient":"right","values":[-0.1,-0.05,0,0.05,0.1,0.15,0.2,0.25],"labels":false,"title":null,"tickSize":{"condition":{"test":"abs(datum.value*10-round(datum.value*10))<0.001","value":-6},"value":-3}}}}}
 ],
 "resolve":{"axis":{"x":"independent","y":"independent"}}
},
{"width":128,"height":102,"view":{"stroke":null},
 "data":{"values":[{"t":"HV Tau C"}]},
 "mark":{"type":"text","font":"Liberation Sans","fontSize":12,"color":"#333"},
 "encoding":{"text":{"field":"t","type":"nominal"}}
},
{"width":128,"height":128,
 "layer":[
  {"data":{"name":"blobs"},"transform":[{"filter":"datum.p==1 && datum.s=='p'"}],"mark":{"type":"point","filled":false,"stroke":"#111","strokeWidth":0.9,"opacity":1,"clip":true},
   "encoding":{"x":{"field":"ra","type":"quantitative","scale":{"domain":[-11.7,11.7],"reverse":true,"nice":false,"zero":false},"axis":{"orient":"bottom","values":[-11,-10,-9,-8,-7,-6,-5,-4,-3,-2,-1,0,1,2,3,4,5,6,7,8,9,10,11],"format":"d","labelExpr":"datum.value % 5 === 0 ? datum.label : ''","labelPadding":10,"title":null,"tickSize":{"condition":{"test":"datum.value % 5 === 0","value":-6},"value":-3}}},
    "y":{"field":"dec","type":"quantitative","scale":{"domain":[-12,12],"nice":false,"zero":false},"axis":{"orient":"left","values":[-11,-10,-9,-8,-7,-6,-5,-4,-3,-2,-1,0,1,2,3,4,5,6,7,8,9,10,11],"format":"d","labelExpr":"datum.value % 5 === 0 ? datum.label : ''","labelPadding":10,"title":"Dec. offset (\")","titlePadding":20,"tickSize":{"condition":{"test":"datum.value % 5 === 0","value":-6},"value":-3}}},
    "size":{"field":"r","type":"quantitative","scale":{"type":"pow","exponent":2,"domain":[0,4],"range":[0,1866]},"legend":null},
    "shape":{"field":"f","type":"nominal","scale":{"domain":["o","m","e","l"],"range":["M-1,0A1,0.8,0,1,1,1,0A1,0.8,0,1,1,-1,0Z","M-1,0A1,0.65,0,1,1,1,0A1,0.65,0,1,1,-1,0Z","M-1,0A1,0.5,0,1,1,1,0A1,0.5,0,1,1,-1,0Z","M-1,0A1,0.25,0,1,1,1,0A1,0.25,0,1,1,-1,0Z"]},"legend":null},
    "angle":{"field":"pa","type":"quantitative","scale":null}}},
  {"data":{"name":"blobs"},"transform":[{"filter":"datum.p==1 && datum.s=='n'"}],"mark":{"type":"point","filled":false,"stroke":"#6a6ad6","strokeWidth":1,"strokeDash":[1,2],"opacity":1,"clip":true},
   "encoding":{"x":{"field":"ra","type":"quantitative","axis":{"orient":"top","values":[-11,-10,-9,-8,-7,-6,-5,-4,-3,-2,-1,0,1,2,3,4,5,6,7,8,9,10,11],"labels":false,"title":null,"tickSize":{"condition":{"test":"datum.value % 5 === 0","value":-6},"value":-3}}},
    "y":{"field":"dec","type":"quantitative","axis":{"orient":"right","values":[-11,-10,-9,-8,-7,-6,-5,-4,-3,-2,-1,0,1,2,3,4,5,6,7,8,9,10,11],"labels":false,"title":null,"tickSize":{"condition":{"test":"datum.value % 5 === 0","value":-6},"value":-3}}},
    "size":{"field":"r","type":"quantitative","legend":null},
    "shape":{"field":"f","type":"nominal","legend":null},
    "angle":{"field":"pa","type":"quantitative","scale":null}}}
 ],
 "resolve":{"axis":{"x":"independent","y":"independent"}}
},
{"width":128,"height":128,
 "layer":[
  {"data":{"name":"blobs"},"transform":[{"filter":"datum.p==2 && datum.s=='p'"}],"mark":{"type":"point","filled":false,"stroke":"#111","strokeWidth":0.9,"opacity":1,"clip":true},
   "encoding":{"x":{"field":"ra","type":"quantitative","scale":{"domain":[-11.7,11.7],"reverse":true,"nice":false,"zero":false},"axis":{"orient":"bottom","values":[-11,-10,-9,-8,-7,-6,-5,-4,-3,-2,-1,0,1,2,3,4,5,6,7,8,9,10,11],"format":"d","labelExpr":"datum.value % 5 === 0 ? datum.label : ''","labelPadding":10,"title":"R.A. offset (\")","titleX":132,"titlePadding":1,"tickSize":{"condition":{"test":"datum.value % 5 === 0","value":-6},"value":-3}}},
    "y":{"field":"dec","type":"quantitative","scale":{"domain":[-12,12],"nice":false,"zero":false},"axis":{"orient":"left","values":[-11,-10,-9,-8,-7,-6,-5,-4,-3,-2,-1,0,1,2,3,4,5,6,7,8,9,10,11],"labels":false,"title":null,"tickSize":{"condition":{"test":"datum.value % 5 === 0","value":-6},"value":-3}}},
    "size":{"field":"r","type":"quantitative","scale":{"type":"pow","exponent":2,"domain":[0,4],"range":[0,1866]},"legend":null},
    "shape":{"field":"f","type":"nominal","scale":{"domain":["o","m","e","l"],"range":["M-1,0A1,0.8,0,1,1,1,0A1,0.8,0,1,1,-1,0Z","M-1,0A1,0.65,0,1,1,1,0A1,0.65,0,1,1,-1,0Z","M-1,0A1,0.5,0,1,1,1,0A1,0.5,0,1,1,-1,0Z","M-1,0A1,0.25,0,1,1,1,0A1,0.25,0,1,1,-1,0Z"]},"legend":null},
    "angle":{"field":"pa","type":"quantitative","scale":null}}},
  {"data":{"name":"blobs"},"transform":[{"filter":"datum.p==2 && datum.s=='n'"}],"mark":{"type":"point","filled":false,"stroke":"#6a6ad6","strokeWidth":1,"strokeDash":[1,2],"opacity":1,"clip":true},
   "encoding":{"x":{"field":"ra","type":"quantitative","axis":{"orient":"top","values":[-11,-10,-9,-8,-7,-6,-5,-4,-3,-2,-1,0,1,2,3,4,5,6,7,8,9,10,11],"labels":false,"title":null,"tickSize":{"condition":{"test":"datum.value % 5 === 0","value":-6},"value":-3}}},
    "y":{"field":"dec","type":"quantitative","axis":{"orient":"right","values":[-11,-10,-9,-8,-7,-6,-5,-4,-3,-2,-1,0,1,2,3,4,5,6,7,8,9,10,11],"labels":false,"title":null,"tickSize":{"condition":{"test":"datum.value % 5 === 0","value":-6},"value":-3}}},
    "size":{"field":"r","type":"quantitative","legend":null},
    "shape":{"field":"f","type":"nominal","legend":null},
    "angle":{"field":"pa","type":"quantitative","scale":null}}}
 ],
 "resolve":{"axis":{"x":"independent","y":"independent"}}
},
{"width":128,"height":128,
 "layer":[
  {"data":{"name":"blobs"},"transform":[{"filter":"datum.p==3 && datum.s=='p'"}],"mark":{"type":"point","filled":false,"stroke":"#111","strokeWidth":0.9,"opacity":1,"clip":true},
   "encoding":{"x":{"field":"ra","type":"quantitative","scale":{"domain":[-11.7,11.7],"reverse":true,"nice":false,"zero":false},"axis":{"orient":"bottom","values":[-11,-10,-9,-8,-7,-6,-5,-4,-3,-2,-1,0,1,2,3,4,5,6,7,8,9,10,11],"format":"d","labelExpr":"datum.value % 5 === 0 ? datum.label : ''","labelPadding":10,"title":null,"tickSize":{"condition":{"test":"datum.value % 5 === 0","value":-6},"value":-3}}},
    "y":{"field":"dec","type":"quantitative","scale":{"domain":[-12,12],"nice":false,"zero":false},"axis":{"orient":"left","values":[-11,-10,-9,-8,-7,-6,-5,-4,-3,-2,-1,0,1,2,3,4,5,6,7,8,9,10,11],"labels":false,"title":null,"tickSize":{"condition":{"test":"datum.value % 5 === 0","value":-6},"value":-3}}},
    "size":{"field":"r","type":"quantitative","scale":{"type":"pow","exponent":2,"domain":[0,4],"range":[0,1866]},"legend":null},
    "shape":{"field":"f","type":"nominal","scale":{"domain":["o","m","e","l"],"range":["M-1,0A1,0.8,0,1,1,1,0A1,0.8,0,1,1,-1,0Z","M-1,0A1,0.65,0,1,1,1,0A1,0.65,0,1,1,-1,0Z","M-1,0A1,0.5,0,1,1,1,0A1,0.5,0,1,1,-1,0Z","M-1,0A1,0.25,0,1,1,1,0A1,0.25,0,1,1,-1,0Z"]},"legend":null},
    "angle":{"field":"pa","type":"quantitative","scale":null}}},
  {"data":{"name":"blobs"},"transform":[{"filter":"datum.p==3 && datum.s=='n'"}],"mark":{"type":"point","filled":false,"stroke":"#6a6ad6","strokeWidth":1,"strokeDash":[1,2],"opacity":1,"clip":true},
   "encoding":{"x":{"field":"ra","type":"quantitative","axis":{"orient":"top","values":[-11,-10,-9,-8,-7,-6,-5,-4,-3,-2,-1,0,1,2,3,4,5,6,7,8,9,10,11],"labels":false,"title":null,"tickSize":{"condition":{"test":"datum.value % 5 === 0","value":-6},"value":-3}}},
    "y":{"field":"dec","type":"quantitative","axis":{"orient":"right","values":[-11,-10,-9,-8,-7,-6,-5,-4,-3,-2,-1,0,1,2,3,4,5,6,7,8,9,10,11],"labels":false,"title":null,"tickSize":{"condition":{"test":"datum.value % 5 === 0","value":-6},"value":-3}}},
    "size":{"field":"r","type":"quantitative","legend":null},
    "shape":{"field":"f","type":"nominal","legend":null},
    "angle":{"field":"pa","type":"quantitative","scale":null}}}
 ],
 "resolve":{"axis":{"x":"independent","y":"independent"}}
},
{"width":128,"height":128,
 "layer":[
  {"data":{"name":"blobs"},"transform":[{"filter":"datum.p==4 && datum.s=='p'"}],"mark":{"type":"point","filled":false,"stroke":"#111","strokeWidth":0.9,"opacity":1,"clip":true},
   "encoding":{"x":{"field":"ra","type":"quantitative","scale":{"domain":[-11.7,11.7],"reverse":true,"nice":false,"zero":false},"axis":{"orient":"bottom","values":[-11,-10,-9,-8,-7,-6,-5,-4,-3,-2,-1,0,1,2,3,4,5,6,7,8,9,10,11],"format":"d","labelExpr":"datum.value % 5 === 0 ? datum.label : ''","labelPadding":10,"title":null,"tickSize":{"condition":{"test":"datum.value % 5 === 0","value":-6},"value":-3}}},
    "y":{"field":"dec","type":"quantitative","scale":{"domain":[-12,12],"nice":false,"zero":false},"axis":{"orient":"left","values":[-11,-10,-9,-8,-7,-6,-5,-4,-3,-2,-1,0,1,2,3,4,5,6,7,8,9,10,11],"labels":false,"title":null,"tickSize":{"condition":{"test":"datum.value % 5 === 0","value":-6},"value":-3}}},
    "size":{"field":"r","type":"quantitative","scale":{"type":"pow","exponent":2,"domain":[0,4],"range":[0,1866]},"legend":null},
    "shape":{"field":"f","type":"nominal","scale":{"domain":["o","m","e","l"],"range":["M-1,0A1,0.8,0,1,1,1,0A1,0.8,0,1,1,-1,0Z","M-1,0A1,0.65,0,1,1,1,0A1,0.65,0,1,1,-1,0Z","M-1,0A1,0.5,0,1,1,1,0A1,0.5,0,1,1,-1,0Z","M-1,0A1,0.25,0,1,1,1,0A1,0.25,0,1,1,-1,0Z"]},"legend":null},
    "angle":{"field":"pa","type":"quantitative","scale":null}}},
  {"data":{"name":"blobs"},"transform":[{"filter":"datum.p==4 && datum.s=='n'"}],"mark":{"type":"point","filled":false,"stroke":"#6a6ad6","strokeWidth":1,"strokeDash":[1,2],"opacity":1,"clip":true},
   "encoding":{"x":{"field":"ra","type":"quantitative","axis":{"orient":"top","values":[-11,-10,-9,-8,-7,-6,-5,-4,-3,-2,-1,0,1,2,3,4,5,6,7,8,9,10,11],"labels":false,"title":null,"tickSize":{"condition":{"test":"datum.value % 5 === 0","value":-6},"value":-3}}},
    "y":{"field":"dec","type":"quantitative","axis":{"orient":"right","values":[-11,-10,-9,-8,-7,-6,-5,-4,-3,-2,-1,0,1,2,3,4,5,6,7,8,9,10,11],"labels":false,"title":null,"tickSize":{"condition":{"test":"datum.value % 5 === 0","value":-6},"value":-3}}},
    "size":{"field":"r","type":"quantitative","legend":null},
    "shape":{"field":"f","type":"nominal","legend":null},
    "angle":{"field":"pa","type":"quantitative","scale":null}}}
 ],
 "resolve":{"axis":{"x":"independent","y":"independent"}}
}
]
}
